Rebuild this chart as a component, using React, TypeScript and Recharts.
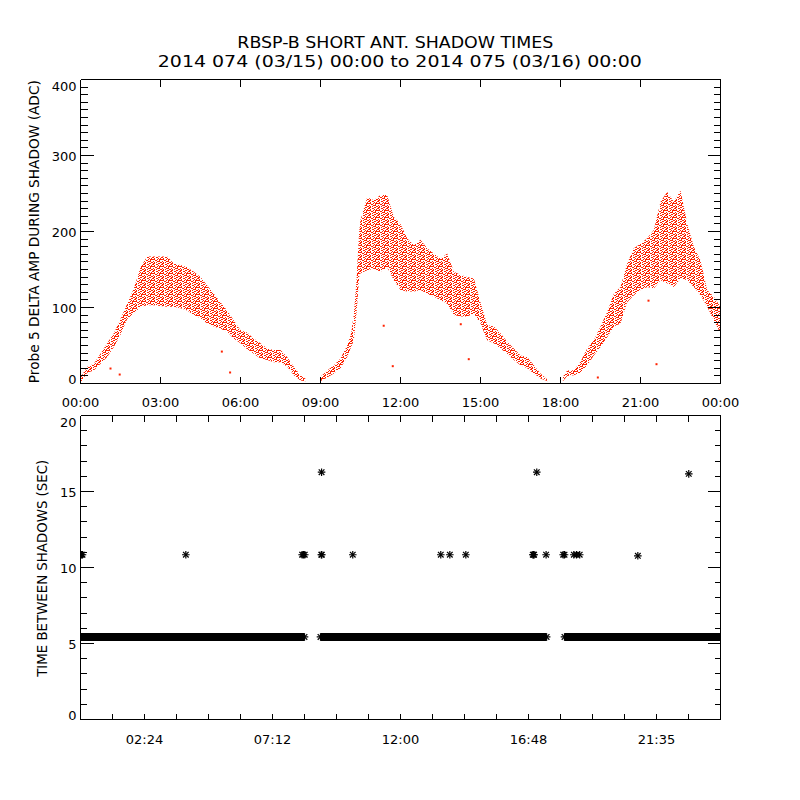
import React from 'react';
import { ComposedChart, Area, Scatter, Line, XAxis, YAxis } from 'recharts';

const FONT = '"DejaVu Sans", sans-serif';
const RED = '#ff2200';

// ---- Top panel: probe 5 delta amplitude envelope (ADC) ----
const ampHours = [
  0, 0.25, 0.5, 0.75, 1, 1.25, 1.5, 1.75, 2, 2.25, 2.5, 2.75, 3, 3.25, 3.5, 3.75, 4, 4.25, 4.5, 4.75,
  5, 5.25, 5.5, 5.75, 6, 6.25, 6.5, 6.75, 7, 7.25, 7.5, 7.75, 8, 8.25, 8.45,
  8.7,
  9, 9.25, 9.5, 9.75, 10, 10.15, 10.25, 10.35, 10.45, 10.5, 10.75, 11, 11.25, 11.5, 11.75, 12,
  12.25, 12.5, 12.75, 13, 13.25, 13.5, 13.75, 14, 14.25, 14.5, 14.75, 15, 15.25, 15.5, 15.75,
  16, 16.25, 16.5, 16.75, 17, 17.25, 17.52,
  17.8,
  18.09, 18.25, 18.5, 18.75, 19, 19.25, 19.5, 19.75, 20, 20.25, 20.5, 20.75, 21, 21.25, 21.5,
  21.75, 22, 22.25, 22.5, 22.75, 23, 23.25, 23.5, 23.75, 24,
];
const ampUpper = [
  8, 22, 26, 39, 53, 66, 85, 105, 125, 153, 167, 167, 167, 167, 158, 156, 153, 147, 140, 129,
  118, 107, 96, 83, 70, 67, 59, 53, 46, 44, 44, 35, 22, 11, 6,
  null,
  9, 17, 24, 33, 50, 66, 92, 136, 200, 215, 245, 241, 248, 248, 219, 210,
  191, 182, 189, 178, 171, 164, 171, 147, 143, 140, 138, 107, 77, 75, 66,
  55, 46, 37, 35, 24, 13, 5,
  null,
  9, 17, 17.5, 28.5, 46, 57, 75, 94, 118, 127, 158, 178, 184, 191, 202,
  239, 252, 239, 254, 211, 180, 162, 123, 114, 101,
];
const ampLower = [
  1, 14, 17, 26, 35, 48, 64, 85, 92, 101, 103, 103, 102, 101, 101, 99, 96, 90, 86, 79,
  75, 72, 68, 59, 53, 45, 39, 33, 31, 28, 28, 22, 11, 4, 3,
  null,
  3, 8, 13, 20, 35, 48, 57, 92, 140, 145, 149, 151, 147, 153, 136, 123,
  121, 121, 123, 118, 114, 110, 105, 90, 88, 88, 92, 79, 57, 53, 46,
  39, 31, 24, 20, 13, 6.6, 3,
  null,
  3, 10, 11, 14, 24, 37, 48, 61, 75, 79, 107, 116, 123, 127, 125,
  136, 132, 127, 138, 136, 127, 116, 101, 83, 66,
];
const strayHours = [1.125, 1.47, 5.3, 5.61, 11.37, 11.71, 14.26, 14.56, 19.4, 21.3, 21.6];
const strayValues = [19.7, 11.8, 42, 14.5, 76, 22.8, 78, 32, 7.9, 109, 25.4];

// ---- Bottom panel: time between shadows (sec) ----
const bandHours = [0, 8.4, 8.46, 9.0, 17.48, 17.8, 18.15, 24];
const bandValues = [5.43, 5.43, null, 5.43, 5.43, null, 5.43, 5.43];
const gapHours = [
  0, 0.04, 0.075, 3.95, 8.31, 8.36, 8.41, 9.03, 9.05, 10.21, 13.51, 13.85, 14.45,
  16.96, 16.99, 17.01, 17.46, 18.1, 18.15, 18.5, 18.6, 18.72, 20.9, 9.04, 17.11, 22.81,
];
const gapValues = [
  10.84, 10.84, 10.84, 10.84, 10.84, 10.84, 10.84, 10.84, 10.84, 10.84, 10.84, 10.84, 10.84,
  10.84, 10.84, 10.84, 10.84, 10.84, 10.84, 10.84, 10.84, 10.84, 10.77, 16.27, 16.27, 16.16,
];

// ---- Axis ticks ----
const topXTicks = [0, 3, 6, 9, 12, 15, 18, 21, 24];
const topXLabels = ['00:00', '03:00', '06:00', '09:00', '12:00', '15:00', '18:00', '21:00', '00:00'];
const topYTicks = [0,10,20,30,40,50,60,70,80,90,100,110,120,130,140,150,160,170,180,190,200,210,220,230,240,250,260,270,280,290,300,310,320,330,340,350,360,370,380,390,400];
const botXTicks = [0, 1.2, 2.4, 3.6, 4.8, 6, 7.2, 8.4, 9.6, 10.8, 12, 13.2, 14.4, 15.6, 16.8, 18, 19.2, 20.4, 21.6, 22.8, 24];
const botXMajor = [2.4, 7.2, 12, 16.8, 21.6];
const botXLabels = ['02:24', '07:12', '12:00', '16:48', '21:35'];
const botYTicks = [0,1,2,3,4,5,6,7,8,9,10,11,12,13,14,15,16,17,18,19,20];

const ampTable = ampHours.map((h, i) => ({
  h,
  range: ampUpper[i] == null ? null : [ampLower[i], ampUpper[i]],
}));
const strayTable = strayHours.map((h, i) => ({ h, v: strayValues[i] }));
const bandTable = bandHours.map((h, i) => ({ h, v: bandValues[i] }));
const gapTable = gapHours.map((h, i) => ({ h, v: gapValues[i] }));

// speckle texture cells [x, y, w] inside a 9x7 tile (style only)
const speckleCells: [number, number, number][] = [
  [0, 0, 2], [4, 0, 1], [6, 0, 3],
  [2, 1, 2], [6, 1, 1],
  [0, 2, 1], [4, 2, 3],
  [1, 3, 1], [3, 3, 1], [7, 3, 2],
  [0, 4, 2], [5, 4, 2],
  [3, 5, 2], [8, 5, 1], [0, 5, 1],
  [1, 6, 1], [5, 6, 1], [7, 6, 1],
];

const isMajor = (v: number, step: number) => Math.abs(v / step - Math.round(v / step)) < 1e-6;

const leftTick = (step: number, min: number, max: number, minorLen: number) => (p: any) => {
  const v = p.payload.value;
  const major = isMajor(v, step);
  const len = major ? 13 : minorLen;
  const dy = v === min ? 0 : v === max ? 11.7 : 5.2;
  return (
    <g>
      <line x1={p.x} y1={p.y} x2={p.x + len} y2={p.y} stroke="#000" strokeWidth={1} shapeRendering="crispEdges" />
      {major && (
        <text x={p.x - 4} y={p.y + dy} textAnchor="end" fontFamily={FONT} fontSize={13} fill="#000">
          {v}
        </text>
      )}
    </g>
  );
};

const rightTick = (step: number, minorLen: number) => (p: any) => {
  const v = p.payload.value;
  const len = isMajor(v, step) ? 13 : minorLen;
  return <line x1={p.x} y1={p.y} x2={p.x - len} y2={p.y} stroke="#000" strokeWidth={1} shapeRendering="crispEdges" />;
};

const bottomTick = (values: number[], labels: string[], len: number, dy: number) => (p: any) => {
  const v = p.payload.value;
  const idx = values.indexOf(v);
  return (
    <g>
      <line x1={p.x} y1={p.y} x2={p.x} y2={p.y - len} stroke="#000" strokeWidth={1} shapeRendering="crispEdges" />
      {idx >= 0 && (
        <text x={p.x} y={p.y + dy} textAnchor="middle" fontFamily={FONT} fontSize={13} fill="#000">
          {labels[idx]}
        </text>
      )}
    </g>
  );
};

const topTick = (len: number) => (p: any) => (
  <line x1={p.x} y1={p.y} x2={p.x} y2={p.y + len} stroke="#000" strokeWidth={1} shapeRendering="crispEdges" />
);

const Asterisk = ({ cx, cy }: { cx?: number; cy?: number }) => {
  if (cx == null || cy == null) return null;
  const r = 3.8;
  const d = 2.8;
  return (
    <g stroke="#000" strokeWidth={1.2}>
      <line x1={cx - r} y1={cy} x2={cx + r} y2={cy} />
      <line x1={cx} y1={cy - r} x2={cx} y2={cy + r} />
      <line x1={cx - d} y1={cy - d} x2={cx + d} y2={cy + d} />
      <line x1={cx - d} y1={cy + d} x2={cx + d} y2={cy - d} />
    </g>
  );
};

const RedDot = (p: any) => {
  if (p.cx == null || p.cy == null) return null;
  return <rect x={p.cx - 1} y={p.cy - 1} width={2} height={2} fill={RED} />;
};

const axisLine = { stroke: '#000', strokeWidth: 1, shapeRendering: 'crispEdges' } as any;

export default function App() {
  return (
    <div style={{ position: 'absolute', left: 0, top: 0, width: 800, height: 800, background: '#fff' }}>
      <div style={{ position: 'absolute', left: 0, top: 0 }}>
        <ComposedChart
          width={800}
          height={415}
          data={ampTable}
          margin={{ left: 40.5, right: 39.5, top: 69.5, bottom: 21.5 }}
        >
          <defs>
            <pattern id="speckle" patternUnits="userSpaceOnUse" width={9} height={7}>
              {speckleCells.map(([x, y, w], i) => (
                <rect key={i} x={x} y={y} width={w} height={1} fill={RED} />
              ))}
            </pattern>
          </defs>
          <XAxis
            dataKey="h"
            type="number"
            domain={[0, 24]}
            allowDataOverflow
            ticks={topXTicks}
            interval={0}
            height={10}
            tickSize={0}
            tickMargin={0}
            axisLine={axisLine}
            tickLine={false}
            tick={bottomTick(topXTicks, topXLabels, 7, 23.4)}
          />
          <XAxis
            xAxisId="top"
            orientation="top"
            dataKey="h"
            type="number"
            domain={[0, 24]}
            allowDataOverflow
            ticks={topXTicks}
            interval={0}
            height={10}
            tickSize={0}
            tickMargin={0}
            axisLine={axisLine}
            tickLine={false}
            tick={topTick(7)}
          />
          <YAxis
            type="number"
            domain={[0, 400]}
            allowDataOverflow
            ticks={topYTicks}
            interval={0}
            width={40}
            tickSize={0}
            tickMargin={0}
            axisLine={axisLine}
            tickLine={false}
            tick={leftTick(100, 0, 400, 7)}
          />
          <YAxis
            yAxisId="right"
            orientation="right"
            type="number"
            domain={[0, 400]}
            allowDataOverflow
            ticks={topYTicks}
            interval={0}
            width={40}
            tickSize={0}
            tickMargin={0}
            axisLine={axisLine}
            tickLine={false}
            tick={rightTick(100, 7)}
          />
          <Area
            type="linear"
            dataKey="range"
            stroke="none"
            fill="url(#speckle)"
            fillOpacity={1}
            isAnimationActive={false}
            dot={false}
            activeDot={false}
          />
          <Scatter data={strayTable} dataKey="v" shape={RedDot} isAnimationActive={false} />
        </ComposedChart>
      </div>

      <div style={{ position: 'absolute', left: 0, top: 400 }}>
        <ComposedChart
          width={800}
          height={400}
          data={bandTable}
          margin={{ left: 40.5, right: 39.5, top: 5.5, bottom: 70.5 }}
        >
          <XAxis
            dataKey="h"
            type="number"
            domain={[0, 24]}
            allowDataOverflow
            ticks={botXTicks}
            interval={0}
            height={10}
            tickSize={0}
            tickMargin={0}
            axisLine={axisLine}
            tickLine={false}
            tick={bottomTick(botXMajor, botXLabels, 6, 24.3)}
          />
          <XAxis
            xAxisId="top"
            orientation="top"
            dataKey="h"
            type="number"
            domain={[0, 24]}
            allowDataOverflow
            ticks={botXTicks}
            interval={0}
            height={10}
            tickSize={0}
            tickMargin={0}
            axisLine={axisLine}
            tickLine={false}
            tick={topTick(6)}
          />
          <YAxis
            type="number"
            domain={[0, 20]}
            allowDataOverflow
            ticks={botYTicks}
            interval={0}
            width={40}
            tickSize={0}
            tickMargin={0}
            axisLine={axisLine}
            tickLine={false}
            tick={leftTick(5, 0, 20, 6)}
          />
          <YAxis
            yAxisId="right"
            orientation="right"
            type="number"
            domain={[0, 20]}
            allowDataOverflow
            ticks={botYTicks}
            interval={0}
            width={40}
            tickSize={0}
            tickMargin={0}
            axisLine={axisLine}
            tickLine={false}
            tick={rightTick(5, 6)}
          />
          <Line
            type="linear"
            dataKey="v"
            stroke="#000"
            strokeWidth={8}
            isAnimationActive={false}
            dot={(p: any) => <Asterisk key={`d${p.index}`} cx={p.cx} cy={p.cy} />}
            activeDot={false}
          />
          <Scatter
            data={gapTable}
            dataKey="v"
            shape={(p: any) => <Asterisk cx={p.cx} cy={p.cy} />}
            isAnimationActive={false}
          />
        </ComposedChart>
      </div>

      <svg width={800} height={800} style={{ position: 'absolute', left: 0, top: 0, pointerEvents: 'none' }}>
        <g fontFamily={FONT} fill="#000">
          <text x={395.3} y={48.3} textAnchor="middle" fontSize={16.5} textLength={316} lengthAdjust="spacingAndGlyphs">
            RBSP-B SHORT ANT. SHADOW TIMES
          </text>
          <text x={399.8} y={66.7} textAnchor="middle" fontSize={16.5} textLength={484} lengthAdjust="spacingAndGlyphs">
            2014 074 (03/15) 00:00 to 2014 075 (03/16) 00:00
          </text>
          <text
            transform="translate(39,231.7) rotate(-90)"
            textAnchor="middle"
            fontSize={13.5}
            textLength={303}
            lengthAdjust="spacingAndGlyphs"
          >
            Probe 5 DELTA AMP DURING SHADOW (ADC)
          </text>
          <text
            transform="translate(46.7,568.3) rotate(-90)"
            textAnchor="middle"
            fontSize={13.5}
            textLength={217}
            lengthAdjust="spacingAndGlyphs"
          >
            TIME BETWEEN SHADOWS (SEC)
          </text>
        </g>
      </svg>
    </div>
  );
}
